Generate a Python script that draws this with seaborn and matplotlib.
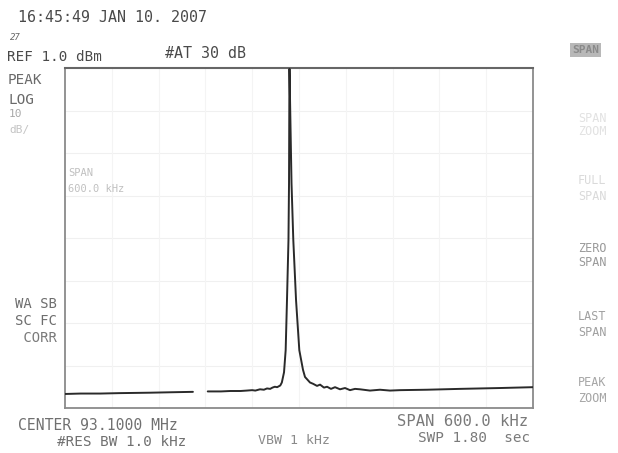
import numpy as np
import pandas as pd
import matplotlib
matplotlib.use("Agg")
import matplotlib.pyplot as plt
import seaborn as sns

center_mhz = 93.1
span_mhz = 0.6
ref_dbm = 1.0
db_per_div = 10
n_ydiv = 8
n_xdiv = 10

freq_left = [92.800, 92.820, 92.845, 92.870, 92.909, 92.935, 92.964]
level_left = [-75.7, -75.6, -75.6, -75.5, -75.4, -75.3, -75.2]

freq_main = [92.983, 93.000, 93.012, 93.025, 93.033, 93.040, 93.044, 93.050,
             93.055, 93.059, 93.063, 93.066, 93.069, 93.072, 93.076, 93.078,
             93.0808, 93.0829, 93.0846, 93.0865, 93.0872, 93.0876, 93.0878,
             93.0885, 93.0904, 93.0927, 93.0962, 93.1004, 93.1051, 93.1077,
             93.1141, 93.1180, 93.1231, 93.1270, 93.1320, 93.1360, 93.1410,
             93.1462, 93.1526, 93.1590, 93.1654, 93.1718, 93.1782, 93.1910,
             93.2038, 93.2167, 93.2295, 93.2641, 93.3064, 93.3577, 93.4000]
level_main = [-75.1, -75.1, -75.0, -75.0, -74.9, -74.8, -74.9, -74.6,
              -74.7, -74.4, -74.5, -74.2, -74.0, -74.1, -73.7, -73.0,
              -70.6, -65.4, -53.6, -39.5, -26.1, -6.4, 0.8,
              -6.4, -26.1, -39.5, -53.6, -65.4, -70.0, -71.7,
              -73.0, -73.3, -73.8, -73.5, -74.2, -74.0, -74.5,
              -74.1, -74.6, -74.3, -74.8, -74.5, -74.6, -74.9,
              -74.7, -74.9, -74.8, -74.7, -74.5, -74.3, -74.1]

header_text = "16:45:49 JAN 10. 2007"
ref_text = "REF 1.0 dBm"
atten_text = "#AT 30 dB"
left_labels = ["PEAK", "LOG"]
scale_labels = ["10", "dB/"]
corr_labels = ["WA SB", "SC FC", " CORR"]
inner_labels = ["SPAN", "600.0 kHz"]
center_text = "CENTER 93.1000 MHz"
rbw_text = "#RES BW 1.0 kHz"
vbw_text = "VBW 1 kHz"
span_text = "SPAN 600.0 kHz"
swp_text = "SWP 1.80  sec"
softkeys = [["SPAN", "ZOOM"], ["FULL", "SPAN"], ["ZERO", "SPAN"],
            ["LAST", "SPAN"], ["PEAK", "ZOOM"]]

df = pd.DataFrame({
    "freq": freq_left + freq_main,
    "level": level_left + level_main,
    "seg": [0] * len(freq_left) + [1] * len(freq_main),
})

# ---- figure ----
sns.set_style("white")
plt.rcParams["font.family"] = ["DejaVu Sans Mono", "DejaVu Sans"]

W, H = 618, 453
fig = plt.figure(figsize=(W / 100, H / 100), dpi=100)
fig.patch.set_facecolor("white")

L, R, T, B = 65, 533, 68, 408
ax = fig.add_axes([L / W, 1 - B / H, (R - L) / W, (B - T) / H])

bottom_db = ref_dbm - n_ydiv * db_per_div
fmin, fmax = center_mhz - span_mhz / 2, center_mhz + span_mhz / 2

for i in range(1, n_ydiv):
    ax.axhline(ref_dbm - i * db_per_div, color="#f0f0f0", lw=0.8, zorder=0)
for i in range(1, n_xdiv):
    ax.axvline(fmin + i * span_mhz / n_xdiv, color="#f4f4f4", lw=0.8, zorder=0)

sns.lineplot(data=df, x="freq", y="level", units="seg", estimator=None,
             color="#2a2a2a", lw=1.4, ax=ax, zorder=3)

ax.set_xlim(fmin, fmax)
ax.set_ylim(bottom_db, ref_dbm)
ax.set_xticks([])
ax.set_yticks([])
ax.set_xlabel("")
ax.set_ylabel("")
for s in ax.spines.values():
    s.set_color("#8a8a8a")
    s.set_linewidth(1.3)
ax.spines["top"].set_color("#666666")
ax.spines["top"].set_linewidth(1.5)


def ptext(x, y, s, color="#555555", size=10.3, **kw):
    fig.text(x / W, 1 - y / H, s, color=color, fontsize=size,
             va="center", ha="left", **kw)


ptext(18, 17, header_text, color="#4a4a4a", size=10.8)
ptext(10, 38, "27", color="#666666", size=6.5, style="italic")
ptext(7, 57, ref_text, color="#4a4a4a")
ptext(165, 54, atten_text, color="#4a4a4a", size=10.8)
ptext(8, 80, left_labels[0], color="#6a6a6a")
ptext(8, 100, left_labels[1], color="#6a6a6a")
ptext(9, 114, scale_labels[0], color="#a8a8a8", size=8)
ptext(9, 130, scale_labels[1], color="#c4c4c4", size=8)

ptext(68, 173, inner_labels[0], color="#c0c0c0", size=7.5)
ptext(68, 189, inner_labels[1], color="#c0c0c0", size=7.5)

ptext(15, 304, corr_labels[0], color="#6e6e6e", size=10)
ptext(15, 321, corr_labels[1], color="#6e6e6e", size=10)
ptext(15, 338, corr_labels[2], color="#7a7a7a", size=10)

ptext(18, 426, center_text, color="#707070", size=10.6)
ptext(57, 442, rbw_text, color="#707070", size=10.3)
ptext(258, 440, vbw_text, color="#8a8a8a", size=9.5)
ptext(397, 422, span_text, color="#7a7a7a", size=11.2)
ptext(418, 438, swp_text, color="#7a7a7a", size=10.3)

# soft keys
fig.text(572 / W, 1 - 50 / H, "SPAN", color="#8a8a8a", fontsize=8,
         va="center", ha="left", weight="bold",
         bbox=dict(boxstyle="square,pad=0.15", fc="#b8b8b8", ec="none"))
key_y = [(118, 132), (180, 196), (248, 262), (317, 332), (383, 398)]
key_col = ["#e2e2e2", "#dadada", "#9a9a9a", "#a0a0a0", "#a6a6a6"]
for (y1, y2), lab, c in zip(key_y, softkeys, key_col):
    ptext(578, y1, lab[0], color=c, size=8.5)
    ptext(578, y2, lab[1], color=c, size=8.5)

fig.savefig("out.png", dpi=100, facecolor="white")
